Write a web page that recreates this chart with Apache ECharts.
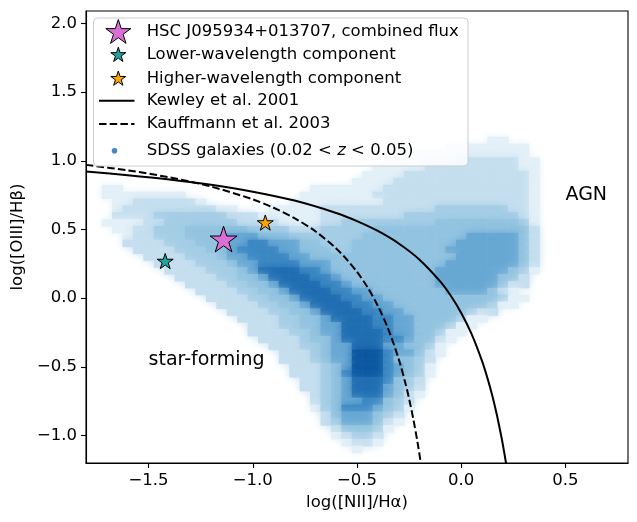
<!DOCTYPE html>
<html>
<head>
<meta charset="utf-8">
<script src="https://cdn.jsdelivr.net/npm/echarts@6/dist/echarts.min.js"></script>
<style>
  html, body { margin: 0; padding: 0; background: #fff; }
  #chart { width: 637px; height: 522px; }
</style>
</head>
<body>
<div id="chart"></div>
<script>
// SDSS cloud, read off the picture as a density grid (0 = empty ... 8 = densest)
// rows go from y = 1.15 down to y = -1.10, columns from x = -1.75 to 0.40, step 0.05
const densityStep = 0.05;
const densityX0 = -1.75;
const densityY0 = 1.15;
const densityRows = [
  '0000000000 0000000000 0000000000 0000000011 0000', //  1.15
  '0000000000 0000000000 0000000000 0000111111 1100', //  1.10
  '0000000000 0000000000 0000000000 0111111111 1100', //  1.05
  '0000000000 0000000000 0000000011 1111122222 2110', //  1.00
  '0000000000 0000000000 0000000111 1122222222 2110', //  0.95
  '0000000000 0000000000 0000001111 2222222222 2210', //  0.90
  '0000000000 0000000000 0000011112 2222222222 2210', //  0.85
  '0110000000 0000000000 0111111122 2222222222 2210', //  0.80
  '0111111110 0000000000 1111111222 2222222222 2210', //  0.75
  '0011222222 1000000001 1111111122 2222222222 2210', //  0.70
  '0012222222 2211000111 1122222222 2223333333 2210', //  0.65
  '0022223333 3332221111 1122222222 3333333333 3210', //  0.60
  '0111122333 3333222211 1122333333 3334444444 4310', //  0.55
  '0011223334 4444433332 2233333444 4444444444 4420', //  0.50
  '0001223334 4445554443 3333334444 4444445555 5420', //  0.45
  '0002222333 4445566555 4433344444 4444455555 5420', //  0.40
  '0000222233 3445666655 4443344444 4444555555 5420', //  0.35
  '0000022223 3345566665 5444444444 4444455555 5420', //  0.30
  '0000002222 3334556666 5554444444 4444555555 5420', //  0.25
  '0000000222 2333457777 6654444444 4445555555 4310', //  0.20
  '0000000022 2233445777 7665444444 4445555554 4200', //  0.15
  '0000000002 2223344577 7766544444 4445555554 2200', //  0.10
  '0000000000 2222334457 7776655444 4444555542 1000', //  0.05
  '0000000000 0222233445 7777665544 4444444443 1100', //  0.00
  '0000000000 0022223344 5777766554 4444444431 1000', // -0.05
  '0000000000 0002222334 4577776655 4444443220 0000', // -0.10
  '0000000000 0000222233 4457777665 5444431100 0000', // -0.15
  '0000000000 0000022233 4455777665 5444311000 0000', // -0.20
  '0000000000 0000022223 3455777765 5443110000 0000', // -0.25
  '0000000000 0000002222 3445777766 5442100000 0000', // -0.30
  '0000000000 0000000222 3345577755 4431000000 0000', // -0.35
  '0000000000 0000000022 2345588865 5421000000 0000', // -0.40
  '0000000000 0000000022 2345588864 4320000000 0000', // -0.45
  '0000000000 0000000002 2234588865 4310000000 0000', // -0.50
  '0000000000 0000000002 2234688865 4310000000 0000', // -0.55
  '0000000000 0000000000 2234577764 3200000000 0000', // -0.60
  '0000000000 0000000000 2234577754 3200000000 0000', // -0.65
  '0000000000 0000000000 0234577754 2100000000 0000', // -0.70
  '0000000000 0000000000 0234556643 2000000000 0000', // -0.75
  '0000000000 0000000000 0134666543 1000000000 0000', // -0.80
  '0000000000 0000000000 0024555432 0000000000 0000', // -0.85
  '0000000000 0000000000 0023555421 0000000000 0000', // -0.90
  '0000000000 0000000000 0002444310 0000000000 0000', // -0.95
  '0000000000 0000000000 0001233200 0000000000 0000', // -1.00
  '0000000000 0000000000 0000122100 0000000000 0000', // -1.05
  '0000000000 0000000000 0000010000 0000000000 0000'  // -1.10
];

// classification lines
const kewleyX = [-1.8, -1.6, -1.4, -1.2, -1.0, -0.8, -0.6, -0.5, -0.4, -0.3, -0.2, -0.1, -0.05, 0.0, 0.05, 0.1, 0.13, 0.15, 0.17, 0.19, 0.2, 0.215];
const kewleyY = [0.921, 0.895, 0.864, 0.825, 0.775, 0.710, 0.620, 0.561, 0.489, 0.398, 0.280, 0.120, 0.017, -0.108, -0.262, -0.459, -0.604, -0.716, -0.843, -0.989, -1.069, -1.202];
const kauffX = [-1.8, -1.6, -1.4, -1.2, -1.0, -0.9, -0.8, -0.7, -0.6, -0.55, -0.5, -0.45, -0.4, -0.35, -0.3, -0.27, -0.25, -0.23, -0.21, -0.194];
const kauffY = [0.970, 0.930, 0.879, 0.812, 0.719, 0.658, 0.582, 0.487, 0.362, 0.283, 0.191, 0.080, -0.056, -0.225, -0.443, -0.606, -0.733, -0.879, -1.046, -1.200];

// the three source measurements
const sourceNames = ['HSC J095934+013707, combined flux', 'Lower-wavelength component', 'Higher-wavelength component'];
const sourceX = [-1.14, -1.42, -0.94];
const sourceY = [0.43, 0.27, 0.55];

// region labels
const noteText = ['AGN', 'star-forming'];
const noteX = [0.5, -1.5];
const noteY = [0.7, -0.5];

const xTicks = [-1.5, -1.0, -0.5, 0.0, 0.5];
const yTicks = [-1.0, -0.5, 0.0, 0.5, 1.0, 1.5, 2.0];

const font = 'DejaVu Sans';
const starPath = 'path://M100,0L122.45,69.1L195.1,69.1L136.3,111.8L158.8,180.9L100,138.2L41.2,180.9L63.7,111.8L4.9,69.1L77.55,69.1Z';
const starColors = ['#da70d6', '#1ea59c', '#ffa500'];
const starSizes = [27, 16, 16];
// opaque shades of the "Blues" look, light to dark
const levelColors = [null,
  '#e4f0f8', '#c6dfef', '#a6cee6',
  '#94c4e0', '#6aa9d4', '#3f8ac4', '#2470b3', '#105aa2'];

let cells = [];
densityRows.forEach(function (rowText, r) {
  let row = rowText.replace(/ /g, '');
  for (let c = 0; c < row.length; c++) {
    let lv = +row[c];
    if (lv > 0) cells.push([densityX0 + c * densityStep, densityY0 - r * densityStep, lv]);
  }
});

function tickFmt(v) {
  return (v < 0 ? '\u2212' : '') + Math.abs(v).toFixed(1);
}

// star outline for the legend icons
function starPoints(cx, cy, w) {
  let R = w / (2 * 0.951), pts = [];
  for (let k = 0; k < 10; k++) {
    let r = k % 2 ? R * 0.382 : R;
    let a = (-90 + k * 36) * Math.PI / 180;
    pts.push([cx + r * Math.cos(a), cy + r * Math.sin(a)]);
  }
  return pts;
}

let chart = echarts.init(document.getElementById('chart'), null, { renderer: 'canvas' });

let series = [{
  name: 'SDSS galaxies',
  type: 'custom',
  silent: true,
  z: 1,
  renderItem: function (params, api) {
    let p = api.coord([api.value(0) - densityStep / 2, api.value(1) + densityStep / 2]);
    let s = api.size([densityStep, densityStep]);
    let col = levelColors[api.value(2)];
    return {
      type: 'rect',
      shape: { x: p[0], y: p[1], width: s[0] + 0.5, height: s[1] + 0.5 },
      style: { fill: col, shadowBlur: 8, shadowColor: col }
    };
  },
  encode: { x: 0, y: 1 },
  data: cells
}, {
  name: 'Kewley et al. 2001',
  type: 'line',
  z: 3,
  showSymbol: false,
  smooth: 0.3,
  lineStyle: { color: '#000', width: 2 },
  data: kewleyX.map((x, i) => [x, kewleyY[i]])
}, {
  name: 'Kauffmann et al. 2003',
  type: 'line',
  z: 3,
  showSymbol: false,
  smooth: 0.3,
  lineStyle: { color: '#000', width: 2, type: [7.5, 3.2] },
  data: kauffX.map((x, i) => [x, kauffY[i]])
}];

sourceNames.forEach(function (name, i) {
  series.push({
    name: name,
    type: 'scatter',
    z: 5,
    symbol: starPath,
    symbolKeepAspect: true,
    symbolSize: starSizes[i],
    itemStyle: { color: starColors[i], borderColor: '#000', borderWidth: 1, opacity: 1 },
    data: [[sourceX[i], sourceY[i]]]
  });
});

series.push({
  type: 'scatter',
  z: 6,
  symbolSize: 0,
  silent: true,
  itemStyle: { opacity: 1 },
  label: {
    show: true,
    position: 'right',
    distance: 0,
    offset: [0, -7],
    formatter: p => p.data[2],
    fontFamily: font,
    fontSize: 19,
    color: '#000'
  },
  data: noteText.map((t, i) => [noteX[i], noteY[i], t])
});

// legend box (matplotlib style, drawn on top)
const lgX = 93.5, lgY = 18, lgRows = [31.7, 54.5, 78.3, 100.7, 124, 150.7];
const lgTextX = 146.7;
let legendText = [
  '{a|HSC J095934+013707, combined flux}',
  '{a|Lower-wavelength component}',
  '{a|Higher-wavelength component}',
  '{a|Kewley et al. 2001}',
  '{a|Kauffmann et al. 2003}',
  '{a|SDSS galaxies (0.02 < }{i|z}{a| < 0.05)}'
];
let rich = {
  a: { fontFamily: font, fontSize: 16.5, fill: '#000', color: '#000' },
  i: { fontFamily: font, fontSize: 16.5, fontStyle: 'italic', fill: '#000', color: '#000' }
};
let graphic = [{
  type: 'rect', z: 100,
  shape: { x: lgX, y: lgY, width: 374.5, height: 148, r: 4 },
  style: { fill: 'rgba(255,255,255,0.8)', stroke: '#cccccc', lineWidth: 1 }
}];
[0, 1, 2].forEach(function (i) {
  graphic.push({
    type: 'polygon', z: 101,
    shape: { points: starPoints(118.3, lgRows[i] + (i === 0 ? 1 : 0.6), i === 0 ? 25 : 15) },
    style: { fill: starColors[i], stroke: '#000', lineWidth: 1 }
  });
});
graphic.push({
  type: 'line', z: 101,
  shape: { x1: 99, y1: lgRows[3], x2: 134.5, y2: lgRows[3] },
  style: { stroke: '#000', lineWidth: 2 }
});
graphic.push({
  type: 'line', z: 101,
  shape: { x1: 99, y1: lgRows[4], x2: 134.5, y2: lgRows[4] },
  style: { stroke: '#000', lineWidth: 2, lineDash: [7.5, 3.2] }
});
graphic.push({
  type: 'circle', z: 101,
  shape: { cx: 114.5, cy: lgRows[5], r: 2.8 },
  style: { fill: '#4a84c0' }
});
legendText.forEach(function (t, i) {
  graphic.push({
    type: 'text', z: 101,
    x: lgTextX, y: lgRows[i],
    style: { text: t, rich: rich, verticalAlign: 'middle', align: 'left' }
  });
});

chart.setOption({
  backgroundColor: '#fff',
  animation: false,
  grid: { left: 86, right: 9, top: 11, bottom: 59, show: true, borderColor: '#000', borderWidth: 1.1, backgroundColor: 'transparent' },
  xAxis: {
    type: 'value', min: -1.8, max: 0.8,
    name: 'log([NII]/H\u03b1)', nameLocation: 'middle', nameGap: 31,
    nameTextStyle: { fontFamily: font, fontSize: 16.5, color: '#000' },
    axisLine: { onZero: false, lineStyle: { color: '#000', width: 1.1 } },
    axisTick: { show: true, inside: false, length: 5, customValues: xTicks, lineStyle: { color: '#000', width: 1.1 } },
    axisLabel: { customValues: xTicks, formatter: tickFmt, fontFamily: font, fontSize: 16.5, color: '#000', margin: 9 },
    splitLine: { show: false }
  },
  yAxis: {
    type: 'value', min: -1.2, max: 2.09,
    name: 'log([OIII]/H\u03b2)', nameLocation: 'middle', nameGap: 58,
    nameTextStyle: { fontFamily: font, fontSize: 16.5, color: '#000' },
    axisLine: { onZero: false, lineStyle: { color: '#000', width: 1.1 } },
    axisTick: { show: true, inside: false, length: 5, customValues: yTicks, lineStyle: { color: '#000', width: 1.1 } },
    axisLabel: { customValues: yTicks, formatter: tickFmt, fontFamily: font, fontSize: 16.5, color: '#000', margin: 9 },
    splitLine: { show: false }
  },
  series: series,
  graphic: graphic
});
</script>
</body>
</html>
